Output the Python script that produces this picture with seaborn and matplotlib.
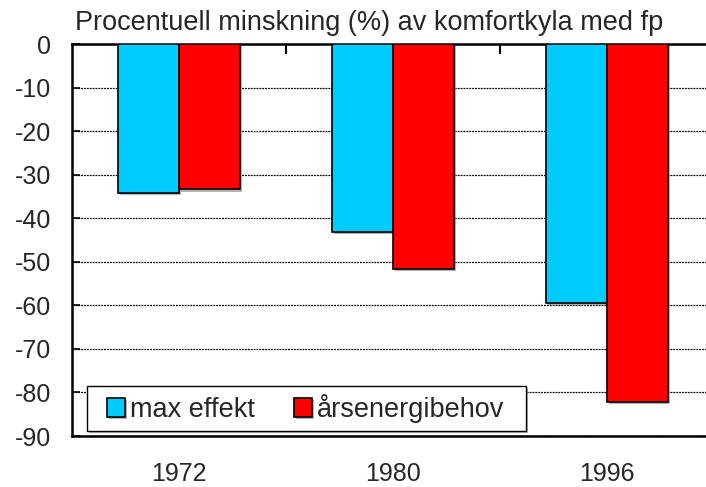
import matplotlib
matplotlib.use("Agg")
import matplotlib.pyplot as plt
import matplotlib.patheffects as pe
from matplotlib.patches import Rectangle
import seaborn as sns
import pandas as pd

years = ["1972", "1980", "1996"]
series = ["max effekt", "årsenergibehov"]
max_effekt = [-34.3, -43.2, -59.5]
arsenergi = [-33.4, -51.7, -82.1]
yticks = [0, -10, -20, -30, -40, -50, -60, -70, -80, -90]
colors = ["#00CCFF", "#FF0000"]
title = "Procentuell minskning (%) av komfortkyla med fp"

df = pd.DataFrame({
    "year": years * 2,
    "serie": [series[0]] * 3 + [series[1]] * 3,
    "value": max_effekt + arsenergi,
})

sns.set_theme(style="white")
plt.rcParams["font.family"] = ["Liberation Sans", "DejaVu Sans"]

W, H = 706, 487
fig = plt.figure(figsize=(W / 100, H / 100), dpi=100)
ax = fig.add_axes([72 / W, 1 - 436 / H, 642 / W, 392 / H])

sns.barplot(data=df, x="year", y="value", hue="serie", order=years,
            hue_order=series, palette=colors, width=0.57, gap=0,
            edgecolor="black", linewidth=1.2, saturation=1, ax=ax, zorder=3)

for p in ax.patches:
    p.set_path_effects([pe.SimplePatchShadow(offset=(1.5, -1.5),
                                             shadow_rgbFace="gray", alpha=0.6),
                        pe.Normal()])

ax.set_ylim(-90, 0)
ax.set_xlim(-0.5, 2.5)
ax.set_yticks(yticks)
ax.set_yticklabels([str(v) for v in yticks], fontsize=18)
ax.set_xlabel("")
ax.set_ylabel("")
ax.tick_params(axis="x", which="major", length=0, pad=19, labelsize=18)
ax.set_xticks([0.5, 1.5], minor=True)
ax.tick_params(axis="x", which="minor", top=True, bottom=False,
               direction="in", length=7, width=1.5, color="black")
ax.tick_params(axis="y", which="major", left=True, direction="in",
               length=6, width=1.2, color="black", pad=15)

ax.yaxis.grid(True, linestyle=(0, (1.5, 0.8)), color="black", linewidth=0.9, zorder=0)
ax.set_axisbelow(True)
for s in ["left", "top", "bottom"]:
    ax.spines[s].set_visible(True)
    ax.spines[s].set_color("black")
    ax.spines[s].set_linewidth(1.8)
ax.spines["right"].set_visible(False)

# legend frame (pixel box 87..526 x 386..431)
def to_ax(px, py):
    return (px - 72) / 642, (436 - py) / 392

x0, y0 = to_ax(87, 431)
x1, y1 = to_ax(526, 386)
frame = Rectangle((x0, y0), x1 - x0, y1 - y0, transform=ax.transAxes,
                  facecolor="white", edgecolor="black", linewidth=1.0,
                  zorder=4, clip_on=False,
                  path_effects=[pe.SimplePatchShadow(offset=(1.5, -1.5),
                                                     shadow_rgbFace="gray", alpha=0.6),
                                pe.Normal()])
ax.add_patch(frame)

handles, labels = ax.get_legend_handles_labels()
lx, ly = to_ax(107, 408.5)
leg = ax.legend(handles, labels, loc="center left",
                bbox_to_anchor=(lx, ly), borderaxespad=0, borderpad=0,
                ncol=2, fontsize=19.5, frameon=False,
                handlelength=0.66, handleheight=0.66, handletextpad=0.18,
                columnspacing=1.45)
leg.set_zorder(5)
for h in leg.legend_handles:
    h.set_linewidth(1.2)

fig.text(75 / W, 1 - 23 / H, title, fontsize=19.5, ha="left", va="center")

fig.savefig("out.png", dpi=100)
